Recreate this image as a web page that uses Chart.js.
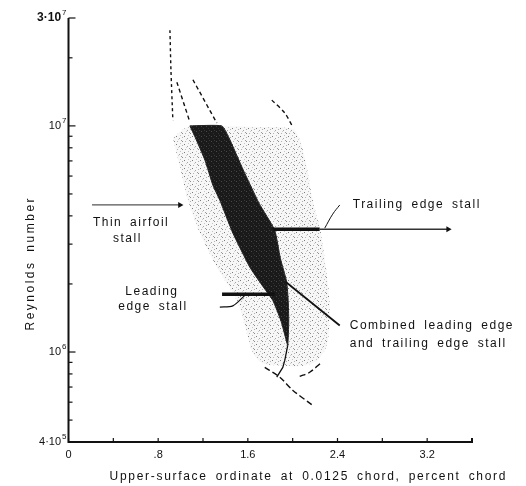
<!DOCTYPE html>
<html>
<head>
<meta charset="utf-8">
<title>Stall types vs Reynolds number</title>
<script src="https://cdn.jsdelivr.net/npm/chart.js@4.4.0/dist/chart.umd.min.js"></script>
<style>
  body { margin: 0; background: #fff; }
  canvas { display: block; }
</style>
</head>
<body>
<canvas id="stall" width="526" height="486"></canvas>
<script>
// ---- axes ----
var xTicks = [0, 0.4, 0.8, 1.2, 1.6, 2.0, 2.4, 2.8, 3.2];
var xLabelValues = [0, 0.8, 1.6, 2.4, 3.2];
var xLabels = ['0', '.8', '1.6', '2.4', '3.2'];
var yMinorTicks = [5e5, 6e5, 7e5, 8e5, 9e5, 2e6, 3e6, 4e6, 5e6, 6e6, 7e6, 8e6, 9e6, 2e7];
var yLabelValues = [4e5, 1e6, 1e7, 3e7];
var yLabelBase = ['4·10', '10', '10', '3·10'];
var yLabelExp = ['5', '6', '7', '7'];

// ---- regions (x = percent chord, y = Reynolds number) ----
var lightX = [0.93, 1.083, 1.35, 1.707, 2.0, 2.063, 2.126, 2.179, 2.25, 2.295, 2.33, 2.33, 2.304, 2.224, 2.063, 1.912, 1.734, 1.644, 1.591, 1.502, 1.323, 1.172, 1.065, 0.994, 0.93];
var lightY = [8.9e6, 1.0e7, 1.0e7, 9.9e6, 9.7e6, 8.7e6, 6.6e6, 4.7e6, 3.4e6, 2.4e6, 1.7e6, 1.38e6, 1.07e6, 9.2e5, 8.65e5, 8.7e5, 8.9e5, 9.9e5, 1.21e6, 1.69e6, 2.37e6, 3.36e6, 4.69e6, 6.57e6, 8.9e6];

// left edge top->bottom, then right edge bottom->top
var darkX = [1.083, 1.13, 1.217, 1.288, 1.35, 1.466, 1.618, 1.725, 1.823, 1.894, 1.93, 1.956, 1.965, 1.96, 1.947, 1.89, 1.84, 1.7, 1.56, 1.43, 1.368, 1.083];
var darkY = [1.0e7, 8.9e6, 7.06e6, 5.47e6, 4.69e6, 3.36e6, 2.37e6, 1.98e6, 1.69e6, 1.38e6, 1.19e6, 1.07e6, 1.38e6, 1.69e6, 2.04e6, 2.6e6, 3.46e6, 4.55e6, 6.37e6, 8.9e6, 1.0e7, 1.0e7];

// ---- dashed boundary lines ----
var dashAX = [0.905, 0.914, 0.931], dashAY = [2.65e7, 1.77e7, 1.06e7];
var dashBX = [0.967, 1.083], dashBY = [1.56e7, 1.04e7];
var dashCX = [1.11, 1.323], dashCY = [1.6e7, 1.03e7];
var dashDX = [1.814, 1.93, 2.0], dashDY = [1.3e7, 1.14e7, 9.9e6];
var dashEX = [1.751, 1.885, 2.0, 2.179], dashEY = [8.55e5, 7.74e5, 6.78e5, 5.81e5];
var dashFX = [2.063, 2.152, 2.259], dashFY = [7.8e5, 8.14e5, 9.0e5];

// ---- solid lines and pointers ----
var tailX = [1.956, 1.93, 1.912, 1.858], tailY = [1.07e6, 9.2e5, 8.55e5, 7.74e5];
var combinedX = [1.939, 2.42], combinedY = [2.04e6, 1.31e6];
var trailThickX = [1.823, 2.241], trailThickY = [3.49e6, 3.49e6];
var trailThinX = [2.241, 3.387], trailThinY = [3.49e6, 3.49e6];
var trailLeaderX = [2.286, 2.357, 2.42], trailLeaderY = [3.53e6, 4.07e6, 4.47e6];
var thinArrowX = [0.21, 0.994], thinArrowY = [4.47e6, 4.47e6];
var leadArrowX = [1.37, 1.84], leadArrowY = [1.8e6, 1.8e6];
var leadLeaderX = [1.35, 1.466, 1.573], leadLeaderY = [1.58e6, 1.6e6, 1.78e6];
var arrowHeadX = [3.387, 0.994], arrowHeadY = [3.49e6, 4.47e6];

// ---- text notes ----
var noteText = ['Thin airfoil', 'stall', 'Leading', 'edge stall', 'Trailing edge stall', 'Combined leading edge', 'and trailing edge stall'];
var noteX = [0.218, 0.397, 0.744, 0.753, 2.536, 2.509, 2.509];
var noteY = [3.75e6, 3.16e6, 1.84e6, 1.58e6, 4.47e6, 1.31e6, 1.09e6];
var noteAlign = ['left', 'left', 'center', 'center', 'left', 'left', 'left'];

var xTitle = 'Upper-surface ordinate at 0.0125 chord, percent chord';
var yTitle = 'Reynolds number';

var FONT = '"Liberation Sans", Arial, sans-serif';

function pts(xs, ys) {
    return xs.map(function(x, i) { return {x: x, y: ys[i]}; });
}

// stipple textures
function makePattern(size, bg, dots) {
    var c = document.createElement('canvas');
    c.width = size; c.height = size;
    var g = c.getContext('2d');
    if (bg) { g.fillStyle = bg; g.fillRect(0, 0, size, size); }
    dots.forEach(function(d) {
        g.fillStyle = d[2];
        g.fillRect(d[0], d[1], 1, 1);
    });
    return g.createPattern(c, 'repeat');
}
var ctx = document.getElementById('stall').getContext('2d');
var lightPattern = makePattern(8, 'rgba(0,0,0,0.03)', [
    [0, 0, '#7a7a7a'], [3, 2, '#a5a5a5'], [6, 5, '#8c8c8c'], [1, 5, '#b5b5b5'],
    [6, 1, '#b0b0b0'], [4, 7, '#c4c4c4'], [2, 3, '#d0d0d0'], [5, 4, '#9e9e9e']
]);
var darkPattern = makePattern(5, '#1a1a1a', [
    [1, 1, '#4a4a4a'], [3, 3, '#333333'], [4, 0, '#3a3a3a']
]);

function lineSet(xs, ys, opts) {
    var base = {
        data: pts(xs, ys),
        showLine: true,
        fill: false,
        borderColor: '#111',
        borderWidth: 1.4,
        pointRadius: 0,
        tension: 0.3,
        order: 1
    };
    for (var k in opts) base[k] = opts[k];
    return base;
}

var dash = [4, 3];

var datasets = [
    lineSet(arrowHeadX, arrowHeadY, {showLine: false, pointRadius: 3.5, pointStyle: 'triangle',
        rotation: 90, backgroundColor: '#111', borderWidth: 0, order: 0}),
    lineSet(dashAX, dashAY, {borderDash: [3, 3]}),
    lineSet(dashBX, dashBY, {borderDash: dash}),
    lineSet(dashCX, dashCY, {borderDash: dash}),
    lineSet(dashDX, dashDY, {borderDash: dash}),
    lineSet(dashEX, dashEY, {borderDash: [6, 3]}),
    lineSet(dashFX, dashFY, {borderDash: [6, 3]}),
    lineSet(tailX, tailY, {borderWidth: 1.3, tension: 0}),
    lineSet(combinedX, combinedY, {borderWidth: 1.8, tension: 0}),
    lineSet(trailThickX, trailThickY, {borderWidth: 3.5, tension: 0}),
    lineSet(trailThinX, trailThinY, {borderWidth: 1.3, borderColor: '#333', tension: 0}),
    lineSet(trailLeaderX, trailLeaderY, {borderWidth: 1, tension: 0.4}),
    lineSet(thinArrowX, thinArrowY, {borderWidth: 1.3, borderColor: '#555', tension: 0}),
    lineSet(leadArrowX, leadArrowY, {borderWidth: 3.5, tension: 0}),
    lineSet(leadLeaderX, leadLeaderY, {borderWidth: 1.2, tension: 0.3}),
    lineSet(darkX, darkY, {fill: 'shape', backgroundColor: darkPattern, borderColor: '#222',
        borderWidth: 1, tension: 0.15, order: 2}),
    lineSet(lightX, lightY, {fill: 'shape', backgroundColor: lightPattern, borderColor: 'rgba(0,0,0,0)',
        borderWidth: 0, tension: 0.3, order: 3})
];

var axesPlugin = {
    id: 'axesAndNotes',
    afterDraw: function(chart) {
        var c = chart.ctx, xs = chart.scales.x, ys = chart.scales.y;
        var x0 = xs.getPixelForValue(0), y0 = ys.getPixelForValue(4e5);
        var xEnd = xs.getPixelForValue(3.6), yTop = ys.getPixelForValue(3e7);
        c.save();
        c.strokeStyle = '#111';
        c.fillStyle = '#111';
        c.lineWidth = 2;
        c.beginPath();
        c.moveTo(x0, yTop);
        c.lineTo(x0, y0);
        c.lineTo(xEnd, y0);
        c.lineTo(xEnd, y0 - 4);
        c.stroke();

        c.lineWidth = 1.2;
        yMinorTicks.forEach(function(v) {
            var p = ys.getPixelForValue(v);
            c.beginPath(); c.moveTo(x0, p); c.lineTo(x0 + 4, p); c.stroke();
        });
        yLabelValues.forEach(function(v) {
            var p = ys.getPixelForValue(v);
            c.beginPath(); c.moveTo(x0, p); c.lineTo(x0 + 7, p); c.stroke();
        });
        xTicks.forEach(function(v) {
            var p = xs.getPixelForValue(v);
            c.beginPath(); c.moveTo(p, y0); c.lineTo(p, y0 - 4); c.stroke();
        });

        // tick labels
        c.textBaseline = 'middle';
        c.font = '11px ' + FONT;
        c.textAlign = 'center';
        xLabelValues.forEach(function(v, i) {
            c.fillText(xLabels[i], xs.getPixelForValue(v), y0 + 13);
        });
        yLabelValues.forEach(function(v, i) {
            var p = ys.getPixelForValue(v);
            c.font = '8px ' + FONT;
            var supW = c.measureText(yLabelExp[i]).width;
            c.textAlign = 'right';
            c.fillText(yLabelExp[i], x0 - 2, p - 5);
            c.font = (i === 3 ? 'bold 12px ' : '11px ') + FONT;
            c.fillText(yLabelBase[i], x0 - 3 - supW, p);
        });

        // notes
        c.font = '12px ' + FONT;
        c.letterSpacing = '1.5px';
        c.wordSpacing = '3px';
        noteText.forEach(function(t, i) {
            c.textAlign = noteAlign[i];
            c.fillText(t, xs.getPixelForValue(noteX[i]), ys.getPixelForValue(noteY[i]));
        });

        // axis titles
        c.textAlign = 'center';
        c.letterSpacing = '1.7px';
        c.fillText(xTitle, xs.getPixelForValue(2.14), y0 + 35);
        c.save();
        c.translate(x0 - 38, ys.getPixelForValue(2.47e6));
        c.rotate(-Math.PI / 2);
        c.letterSpacing = '2.5px';
        c.fillText(yTitle, 0, 0);
        c.restore();
        c.restore();
    }
};

new Chart(ctx, {
    type: 'scatter',
    data: { datasets: datasets },
    options: {
        responsive: false,
        animation: false,
        devicePixelRatio: 1,
        layout: { padding: { left: 68.5, top: 18, right: 54, bottom: 44 } },
        plugins: { legend: { display: false }, tooltip: { enabled: false } },
        scales: {
            x: { type: 'linear', min: 0, max: 3.6, display: false },
            y: { type: 'logarithmic', min: 4e5, max: 3e7, display: false }
        }
    },
    plugins: [axesPlugin]
});
</script>
</body>
</html>
